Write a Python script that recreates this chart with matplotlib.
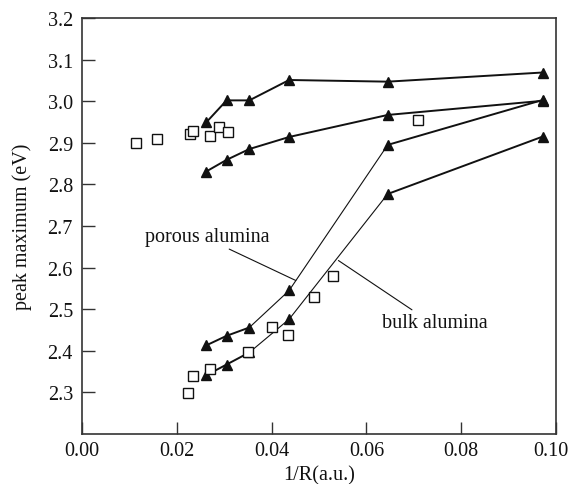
import matplotlib
matplotlib.use("Agg")
import matplotlib.pyplot as plt
import matplotlib.transforms as mtransforms

plt.rcParams['font.family'] = ['Liberation Serif', 'DejaVu Serif']

# triangle series share the same 1/R positions
tri_x = [0.0262, 0.0305, 0.0353, 0.0437, 0.0645, 0.0972]
top_y = [2.949, 3.002, 3.002, 3.051, 3.047, 3.069]
second_y = [2.831, 2.859, 2.885, 2.914, 2.967, 3.001]
porous_y = [2.413, 2.436, 2.456, 2.545, 2.895, 3.003]
bulk_y = [2.341, 2.367, 2.396, 2.476, 2.777, 2.915]

# open squares
sq_x = [0.0114, 0.0158, 0.0228, 0.0235, 0.0269, 0.0290, 0.0309, 0.0708,
        0.0224, 0.0235, 0.0270, 0.0351, 0.0401, 0.0434, 0.0490, 0.0529]
sq_y = [2.900, 2.908, 2.920, 2.929, 2.917, 2.939, 2.925, 2.955,
        2.299, 2.339, 2.356, 2.398, 2.458, 2.438, 2.529, 2.579]

fig = plt.figure(figsize=(5.72, 4.85), dpi=100)
ax = fig.add_axes([0.1434, 0.1031, 0.8286, 0.8577])

ink = '#111111'
thick = 1.4
thin = 0.8
fs = 14.5

# top two series: all thick
ax.plot(tri_x, top_y, color=ink, lw=thick)
ax.plot(tri_x, second_y, color=ink, lw=thick)

# porous / bulk: middle part drawn thin
for ys in (porous_y, bulk_y):
    ax.plot(tri_x[:3], ys[:3], color=ink, lw=thick)
    ax.plot(tri_x[2:5], ys[2:5], color=ink, lw=thin)
    ax.plot(tri_x[4:], ys[4:], color=ink, lw=thick)

for ys in (top_y, second_y, porous_y, bulk_y):
    ax.plot(tri_x, ys, linestyle='none', marker='^', ms=7.5,
            color=ink, mec=ink)

ax.plot(sq_x, sq_y, linestyle='none', marker='s', ms=6.5,
        mfc='white', mec=ink, mew=1.0)

# labels with leader lines
ax.annotate('porous alumina', xy=(0.0451, 2.569), xytext=(0.0264, 2.674),
            fontsize=fs, ha='center', va='center', color=ink,
            arrowprops=dict(arrowstyle='-', color=ink, lw=0.8,
                            shrinkA=0, shrinkB=0,
                            relpos=(0.63, 0.0)))
ax.annotate('bulk alumina', xy=(0.0541, 2.617), xytext=(0.0745, 2.469),
            fontsize=fs, ha='center', va='center', color=ink,
            arrowprops=dict(arrowstyle='-', color=ink, lw=0.8,
                            shrinkA=0, shrinkB=0,
                            relpos=(0.32, 1.0)))

ax.set_xlim(0.0, 0.10)
ax.set_ylim(2.2, 3.2)
ax.set_xticks([0.00, 0.02, 0.04, 0.06, 0.08, 0.10])
ax.set_xticklabels(['0.00', '0.02', '0.04', '0.06', '0.08', '0.10'])
ax.set_yticks([2.3, 2.4, 2.5, 2.6, 2.7, 2.8, 2.9, 3.0, 3.1, 3.2])
ax.set_yticklabels(['2.3', '2.4', '2.5', '2.6', '2.7', '2.8', '2.9', '3.0', '3.1', '3.2'])
ax.tick_params(direction='in', length=9, width=1.0, labelsize=fs,
               colors='#333333', labelcolor=ink, pad=6.5)
ax.tick_params(axis='x', pad=5)
for s in ax.spines.values():
    s.set_color('#333333')
    s.set_linewidth(1.2)

# keep the last x label inside the canvas
last = ax.get_xticklabels()[-1]
last.set_transform(last.get_transform() +
                   mtransforms.ScaledTranslation(-5 / 100, 0, fig.dpi_scale_trans))

ax.set_xlabel('1/R(a.u.)', fontsize=fs, color=ink, labelpad=4)
ax.set_ylabel('peak maximum (eV)', fontsize=fs, color=ink, labelpad=11)

fig.savefig('out.png', dpi=100)
